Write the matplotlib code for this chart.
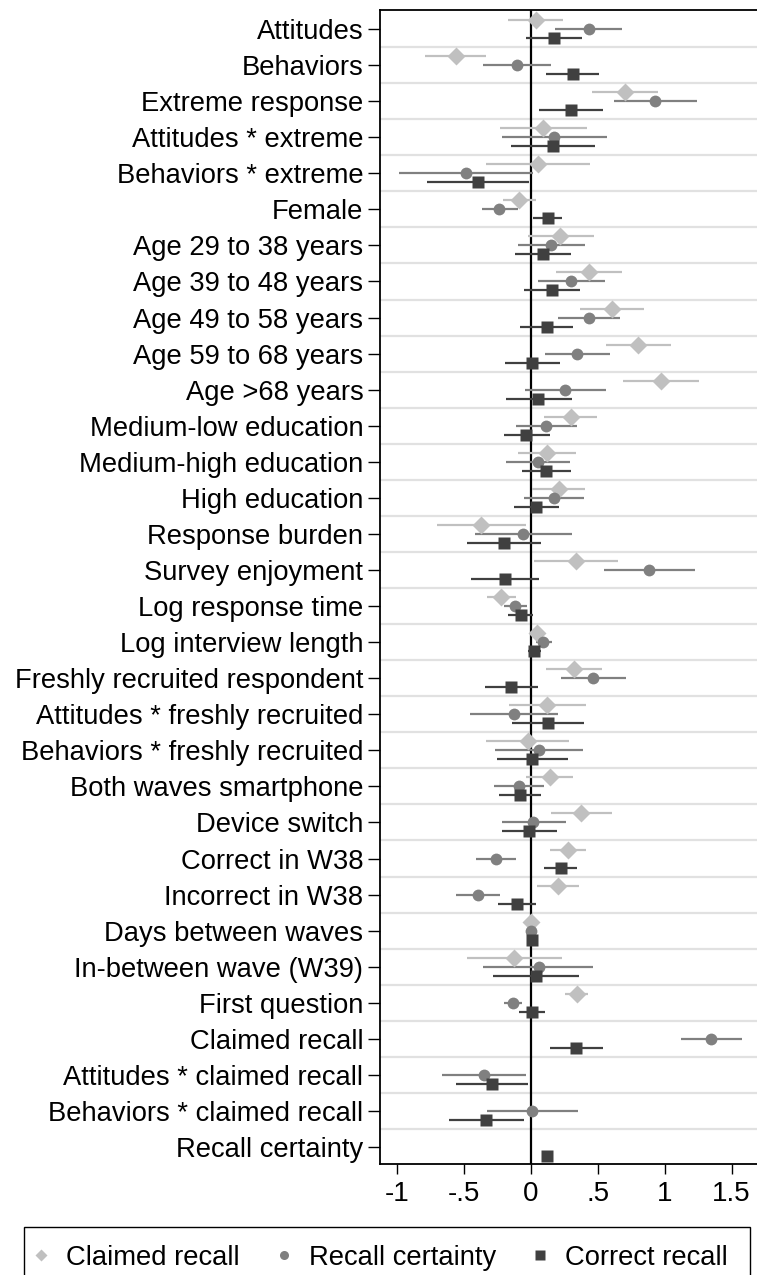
import numpy as np
import matplotlib.pyplot as plt
from matplotlib.patches import Rectangle

plt.rcParams['font.family'] = ['Liberation Sans', 'DejaVu Sans']

labels = ['Attitudes', 'Behaviors', 'Extreme response', 'Attitudes * extreme',
          'Behaviors * extreme', 'Female', 'Age 29 to 38 years', 'Age 39 to 48 years',
          'Age 49 to 58 years', 'Age 59 to 68 years', 'Age >68 years',
          'Medium-low education', 'Medium-high education', 'High education',
          'Response burden', 'Survey enjoyment', 'Log response time',
          'Log interview length', 'Freshly recruited respondent',
          'Attitudes * freshly recruited', 'Behaviors * freshly recruited',
          'Both waves smartphone', 'Device switch', 'Correct in W38',
          'Incorrect in W38', 'Days between waves', 'In-between wave (W39)',
          'First question', 'Claimed recall', 'Attitudes * claimed recall',
          'Behaviors * claimed recall', 'Recall certainty']

nan = np.nan

# Claimed recall (diamond)
claimed = [0.035, -0.565, 0.70, 0.09, 0.05, -0.087, 0.22, 0.43, 0.605, 0.80, 0.97,
           0.296, 0.12, 0.207, -0.371, 0.336, -0.222, 0.042, 0.324, 0.122, -0.022,
           0.14, 0.376, 0.277, 0.204, 0.002, -0.127, 0.341, nan, nan, nan, nan]
claimed_lo = [-0.17, -0.79, 0.456, -0.23, -0.34, -0.21, -0.025, 0.19, 0.369, 0.558, 0.69,
              0.10, -0.095, 0.01, -0.70, 0.025, -0.33, -0.01, 0.115, -0.167, -0.336,
              -0.04, 0.15, 0.14, 0.047, -0.008, -0.478, 0.257, nan, nan, nan, nan]
claimed_hi = [0.24, -0.34, 0.947, 0.42, 0.44, 0.037, 0.47, 0.68, 0.842, 1.049, 1.253,
              0.496, 0.336, 0.406, -0.04, 0.65, -0.11, 0.09, 0.533, 0.414, 0.286,
              0.314, 0.608, 0.41, 0.356, 0.012, 0.232, 0.424, nan, nan, nan, nan]

# Recall certainty (circle)
certainty = [0.43, -0.105, 0.93, 0.174, -0.49, -0.237, 0.147, 0.30, 0.43, 0.346, 0.254,
             0.112, 0.055, 0.17, -0.06, 0.88, -0.12, 0.092, 0.463, -0.13, 0.062,
             -0.09, 0.017, -0.264, -0.40, -0.002, 0.057, -0.135, 1.345, -0.354, 0.005, nan]
certainty_lo = [0.18, -0.36, 0.62, -0.22, -0.99, -0.37, -0.10, 0.055, 0.20, 0.105, -0.042,
                -0.112, -0.184, -0.05, -0.42, 0.543, -0.204, 0.035, 0.222, -0.46, -0.27,
                -0.28, -0.22, -0.41, -0.565, -0.01, -0.356, -0.20, 1.12, -0.665, -0.33, nan]
certainty_hi = [0.68, 0.15, 1.24, 0.57, 0.015, -0.10, 0.40, 0.55, 0.665, 0.593, 0.558,
                0.341, 0.29, 0.394, 0.304, 1.223, -0.027, 0.157, 0.71, 0.20, 0.39,
                0.10, 0.26, -0.115, -0.232, 0.008, 0.466, -0.067, 1.577, -0.04, 0.35, nan]

# Correct recall (square)
correct = [0.17, 0.31, 0.296, 0.164, -0.40, 0.125, 0.09, 0.157, 0.117, 0.007, 0.055,
           -0.035, 0.115, 0.04, -0.204, -0.197, -0.077, 0.025, -0.147, 0.127, 0.01,
           -0.085, -0.012, 0.222, -0.107, 0.005, 0.035, 0.005, 0.339, -0.29, -0.336, 0.12]
correct_lo = [-0.035, 0.115, 0.06, -0.15, -0.78, 0.015, -0.117, -0.05, -0.08, -0.197, -0.19,
              -0.204, -0.067, -0.127, -0.48, -0.45, -0.17, -0.02, -0.346, -0.142, -0.254,
              -0.24, -0.22, 0.10, -0.25, -0.005, -0.286, -0.092, 0.142, -0.56, -0.615, 0.11]
correct_hi = [0.38, 0.51, 0.54, 0.48, -0.017, 0.23, 0.30, 0.366, 0.314, 0.217, 0.304,
              0.14, 0.30, 0.212, 0.077, 0.06, 0.017, 0.072, 0.05, 0.394, 0.274,
              0.072, 0.194, 0.34, 0.04, 0.015, 0.361, 0.107, 0.536, -0.02, -0.052, 0.13]

series = [
    ('Claimed recall', claimed, claimed_lo, claimed_hi, 'D', '#c0c0c0', 9, -0.25),
    ('Recall certainty', certainty, certainty_lo, certainty_hi, 'o', '#808080', 8.5, 0.0),
    ('Correct recall', correct, correct_lo, correct_hi, 's', '#404040', 8.5, 0.25),
]

fig = plt.figure(figsize=(7.57, 12.75), dpi=100)
ax = fig.add_axes([380 / 757, 1 - 1164 / 1275, 1 - 380 / 757, (1164 - 10) / 1275])

rows = np.arange(1, len(labels) + 1)

for r in rows[:-1]:
    ax.axhline(r + 0.5, color='#e1e1e1', lw=1.6, zorder=0)
ax.axvline(0, color='black', lw=1.6, zorder=1)

handles = []
for name, est, lo, hi, mk, col, ms, off in series:
    est = np.array(est)
    lo = np.array(lo)
    hi = np.array(hi)
    y = rows + off
    ok = ~np.isnan(est)
    ax.hlines(y[ok], lo[ok], hi[ok], color=col, lw=1.6, zorder=2)
    ax.plot(est[ok], y[ok], mk, color=col, ms=ms, mec='none', zorder=3)
    h, = ax.plot([], [], mk, color=col, ms=6.5, mec='none')
    handles.append(h)

ax.set_ylim(32.47, 0.473)
ax.set_xlim(-1.13, 1.69)
ax.set_yticks(rows)
ax.set_yticklabels(labels, fontsize=19.7)
ax.set_xticks([-1, -0.5, 0, 0.5, 1, 1.5])
ax.set_xticklabels(['-1', '-.5', '0', '.5', '1', '1.5'], fontsize=20)
ax.tick_params(axis='y', length=9, width=1, pad=3)
ax.tick_params(axis='x', length=7, width=1, pad=5)
ax.spines['right'].set_visible(False)
for s in ['left', 'top', 'bottom']:
    ax.spines[s].set_linewidth(1.3)

# legend box (drawn separately, runs off the bottom edge)
fig.add_artist(Rectangle((24 / 757, -0.01), 726 / 757, 0.01 + (1275 - 1227) / 1275,
                         transform=fig.transFigure, fill=False, edgecolor='black', lw=1.0))
leg = fig.legend(handles, [s[0] for s in series], loc='upper left', ncol=3,
                 bbox_to_anchor=(33 / 757, 1 - 1245 / 1275), fontsize=19.7,
                 frameon=False, handletextpad=0.62, handlelength=0.6,
                 columnspacing=1.3, borderpad=0, borderaxespad=0)

fig.savefig('out.png', dpi=100)
